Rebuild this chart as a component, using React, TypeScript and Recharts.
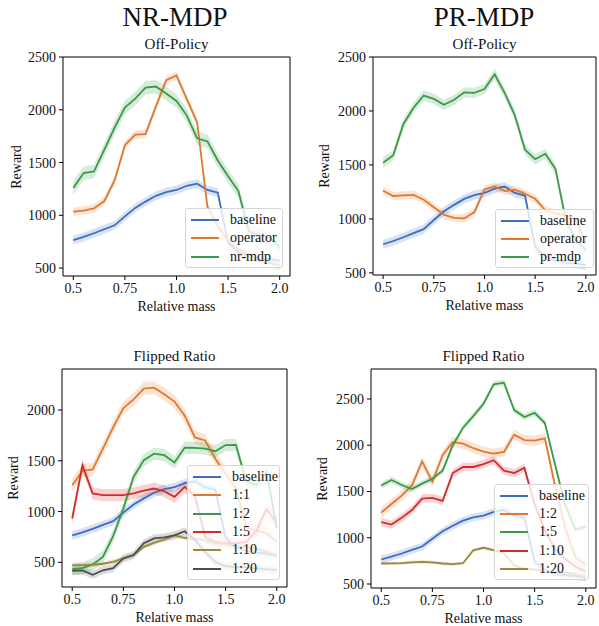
import { ComposedChart, Line, Area, XAxis, YAxis, ReferenceArea } from "recharts";

const masses = [0.5, 0.55, 0.6, 0.65, 0.7, 0.75, 0.8, 0.85, 0.9, 0.95, 1.0, 1.1, 1.2, 1.3, 1.4, 1.5, 1.6, 1.7, 1.8, 1.9, 2.0];
const massTicks = [0, 5, 10, 15, 20];
const massTickLabels = ["0.5", "0.75", "1.0", "1.5", "2.0"];

// mean rewards per relative mass
const baseline = [765, 795, 830, 868, 905, 990, 1070, 1130, 1185, 1220, 1240, 1280, 1300, 1240, 1215, 740, 650, 610, 595, 585, 570];
const nrOperator = [1035, 1045, 1065, 1135, 1330, 1665, 1765, 1770, 2030, 2280, 2325, 2100, 1880, 1080, 900, 760, 680, 620, 580, 550, 525];
const nrMdp = [1260, 1400, 1415, 1620, 1830, 2020, 2105, 2210, 2220, 2155, 2083, 1945, 1730, 1700, 1520, 1370, 1230, 850, 810, 790, 700];
const prOperator = [1260, 1212, 1218, 1222, 1178, 1108, 1038, 1010, 1004, 1063, 1273, 1300, 1257, 1270, 1233, 1186, 1080, 1050, 1030, 1000, 780];
const prMdp = [1520, 1590, 1880, 2030, 2143, 2112, 2057, 2103, 2172, 2168, 2203, 2340, 2165, 1958, 1640, 1553, 1603, 1464, 1000, 800, 712];

const nrFlip12 = [432, 442, 480, 553, 758, 1030, 1342, 1506, 1570, 1555, 1483, 1630, 1628, 1620, 1594, 1655, 1657, 1300, 1260, 1390, 840];
const nrFlip15 = [932, 1455, 1178, 1162, 1162, 1162, 1180, 1205, 1227, 1200, 1145, 1243, 1150, 750, 700, 690, 690, 700, 810, 1025, 890];
const nrFlip110 = [470, 472, 476, 486, 505, 540, 572, 652, 692, 725, 765, 742, 730, 718, 690, 680, 655, 650, 640, 600, 560];
const nrFlip120 = [415, 420, 378, 422, 442, 538, 572, 688, 736, 745, 765, 806, 722, 600, 502, 462, 452, 450, 440, 430, 425];

const prFlip12 = [1272, 1365, 1455, 1565, 1825, 1605, 1892, 2035, 2018, 1968, 1932, 1910, 1928, 2115, 2055, 2050, 2075, 1560, 1100, 790, 705];
const prFlip15 = [1565, 1625, 1570, 1527, 1585, 1638, 1725, 2000, 2190, 2315, 2448, 2658, 2676, 2380, 2305, 2350, 2240, 1790, 1350, 1085, 1120];
const prFlip110 = [1168, 1143, 1215, 1300, 1424, 1430, 1398, 1700, 1765, 1765, 1795, 1838, 1725, 1700, 1755, 1360, 1080, 880, 770, 687, 635];
const prFlip120 = [722, 724, 725, 735, 740, 735, 722, 715, 725, 865, 892, 866, 832, 700, 665, 655, 645, 635, 625, 605, 572];

// approximate half-width of the shaded bands
const bandBaseline = 42;
const bandNrOperator = 40;
const bandNrMdp = 65;
const bandPrOperator = 38;
const bandPrMdp = 48;
const bandNrFlip = [65, 60, 60, 22, 40];
const bandPrFlip = [55, 35, 45, 18];

const BLUE = "#3b6dc1";
const ORANGE = "#e0792f";
const GREEN = "#399a47";
const RED = "#d42a2a";
const OLIVE = "#9a893a";
const GREY = "#4d4d4d";
const FONT = "'Liberation Serif', 'DejaVu Serif', serif";

type Series = { name: string; values: number[]; band: number; color: string };

type PanelProps = {
  plotLeft: number;
  plotTop: number;
  plotRight: number;
  plotBottom: number;
  yDomain: [number, number];
  yTicks: number[];
  series: Series[];
  legend: { left: number; top: number; width: number; height: number };
  subtitle: string;
  rewardX: number;
};

function Legend({ items, left, top, width, height }: { items: Series[]; left: number; top: number; width: number; height: number }) {
  const rowH = (height - 5) / items.length;
  return (
    <div
      style={{
        position: "absolute",
        left,
        top,
        width,
        height,
        boxSizing: "border-box",
        background: "rgba(255,255,255,0.8)",
        border: "1px solid #d6d6d6",
        borderRadius: 3,
        paddingTop: 2,
      }}
    >
      {items.map((s) => (
        <div key={s.name} style={{ display: "flex", alignItems: "center", height: rowH }}>
          <div style={{ marginLeft: 5, width: 28, height: 2, background: s.color }} />
          <span style={{ marginLeft: 11, fontSize: 14, lineHeight: "14px", color: "#111" }}>{s.name}</span>
        </div>
      ))}
    </div>
  );
}

function Panel(p: PanelProps) {
  const yAxisW = 60;
  const mTop = 10;
  const mRight = 8;
  const xAxisH = 30;
  const mBottom = 5;
  const width = yAxisW + (p.plotRight - p.plotLeft) + mRight;
  const height = mTop + (p.plotBottom - p.plotTop) + xAxisH + mBottom;

  const data = masses.map((m, i) => {
    const row: Record<string, number | number[]> = { x: i, mass: m };
    p.series.forEach((s, k) => {
      row["v" + k] = s.values[i];
      row["b" + k] = [s.values[i] - s.band, s.values[i] + s.band];
    });
    return row;
  });

  const tickStyle = { fill: "#111", fontSize: 14, fontFamily: FONT };
  const midX = (p.plotLeft + p.plotRight) / 2;

  return (
    <>
      <div style={{ position: "absolute", left: midX, top: p.plotTop - 13, transform: "translate(-50%, -50%)", fontSize: 15, whiteSpace: "nowrap" }}>
        {p.subtitle}
      </div>
      <div style={{ position: "absolute", left: p.plotLeft - yAxisW, top: p.plotTop - mTop }}>
        <ComposedChart width={width} height={height} data={data} margin={{ top: mTop, right: mRight, bottom: mBottom, left: 0 }}>
          <XAxis
            type="number"
            dataKey="x"
            domain={[-1, 21]}
            ticks={massTicks}
            interval={0}
            allowDataOverflow
            tickFormatter={(v: number) => massTickLabels[massTicks.indexOf(v)]}
            axisLine={false}
            tickLine={{ stroke: "#000" }}
            tickSize={4}
            tickMargin={3}
            height={xAxisH}
            tick={tickStyle}
          />
          <YAxis
            type="number"
            domain={p.yDomain}
            ticks={p.yTicks}
            interval={0}
            allowDataOverflow
            axisLine={false}
            tickLine={{ stroke: "#000" }}
            tickSize={4}
            tickMargin={3}
            width={yAxisW}
            tick={tickStyle}
          />
          {p.series.map((s, k) => (
            <Area
              key={"a" + k}
              type="linear"
              dataKey={"b" + k}
              stroke="none"
              fill={s.color}
              fillOpacity={0.2}
              isAnimationActive={false}
            />
          ))}
          {p.series.map((s, k) => (
            <Line
              key={"l" + k}
              type="linear"
              dataKey={"v" + k}
              stroke={s.color}
              strokeWidth={1.8}
              dot={false}
              isAnimationActive={false}
            />
          ))}
          <ReferenceArea
            x1={-1}
            x2={21}
            y1={p.yDomain[0]}
            y2={p.yDomain[1]}
            fill="none"
            stroke="#000"
            strokeWidth={1}
            ifOverflow="visible"
          />
        </ComposedChart>
      </div>
      <Legend items={p.series} {...p.legend} />
      <div style={{ position: "absolute", left: midX, top: p.plotBottom + 31, transform: "translate(-50%, -50%)", fontSize: 14, whiteSpace: "nowrap" }}>
        Relative mass
      </div>
      <div
        style={{
          position: "absolute",
          left: p.rewardX,
          top: (p.plotTop + p.plotBottom) / 2,
          transform: "translate(-50%, -50%) rotate(-90deg)",
          fontSize: 14,
          whiteSpace: "nowrap",
        }}
      >
        Reward
      </div>
    </>
  );
}

export default function App() {
  const nrOff: Series[] = [
    { name: "baseline", values: baseline, band: bandBaseline, color: BLUE },
    { name: "operator", values: nrOperator, band: bandNrOperator, color: ORANGE },
    { name: "nr-mdp", values: nrMdp, band: bandNrMdp, color: GREEN },
  ];
  const prOff: Series[] = [
    { name: "baseline", values: baseline, band: bandBaseline, color: BLUE },
    { name: "operator", values: prOperator, band: bandPrOperator, color: ORANGE },
    { name: "pr-mdp", values: prMdp, band: bandPrMdp, color: GREEN },
  ];
  const nrFlip: Series[] = [
    { name: "baseline", values: baseline, band: bandBaseline, color: BLUE },
    { name: "1:1", values: nrMdp, band: bandNrFlip[0], color: ORANGE },
    { name: "1:2", values: nrFlip12, band: bandNrFlip[1], color: GREEN },
    { name: "1:5", values: nrFlip15, band: bandNrFlip[2], color: RED },
    { name: "1:10", values: nrFlip110, band: bandNrFlip[3], color: OLIVE },
    { name: "1:20", values: nrFlip120, band: bandNrFlip[4], color: GREY },
  ];
  const prFlip: Series[] = [
    { name: "baseline", values: baseline, band: bandBaseline, color: BLUE },
    { name: "1:2", values: prFlip12, band: bandPrFlip[0], color: ORANGE },
    { name: "1:5", values: prFlip15, band: bandPrFlip[1], color: GREEN },
    { name: "1:10", values: prFlip110, band: bandPrFlip[2], color: RED },
    { name: "1:20", values: prFlip120, band: bandPrFlip[3], color: OLIVE },
  ];

  return (
    <div style={{ position: "absolute", left: 0, top: 0, width: 599, height: 626, background: "#fff", fontFamily: FONT, color: "#111", overflow: "hidden" }}>
      <div style={{ position: "absolute", left: 175, top: 17, transform: "translate(-50%, -50%)", fontSize: 27 }}>NR-MDP</div>
      <div style={{ position: "absolute", left: 484, top: 17, transform: "translate(-50%, -50%)", fontSize: 27 }}>PR-MDP</div>
      <Panel
        plotLeft={63}
        plotTop={57}
        plotRight={290}
        plotBottom={276}
        yDomain={[425, 2500]}
        yTicks={[500, 1000, 1500, 2000, 2500]}
        series={nrOff}
        legend={{ left: 185, top: 208, width: 98, height: 60 }}
        subtitle="Off-Policy"
        rewardX={17}
      />
      <Panel
        plotLeft={373}
        plotTop={57}
        plotRight={596}
        plotBottom={275}
        yDomain={[480, 2500]}
        yTicks={[500, 1000, 1500, 2000, 2500]}
        series={prOff}
        legend={{ left: 495, top: 209, width: 99, height: 59 }}
        subtitle="Off-Policy"
        rewardX={325}
      />
      <Panel
        plotLeft={62}
        plotTop={369}
        plotRight={287}
        plotBottom={587}
        yDomain={[257, 2404]}
        yTicks={[500, 1000, 1500, 2000]}
        series={nrFlip}
        legend={{ left: 187, top: 465, width: 93, height: 115 }}
        subtitle="Flipped Ratio"
        rewardX={14}
      />
      <Panel
        plotLeft={371}
        plotTop={369}
        plotRight={596}
        plotBottom={588}
        yDomain={[457, 2824]}
        yTicks={[500, 1000, 1500, 2000, 2500]}
        series={prFlip}
        legend={{ left: 494, top: 484, width: 95, height: 96 }}
        subtitle="Flipped Ratio"
        rewardX={323}
      />
    </div>
  );
}
